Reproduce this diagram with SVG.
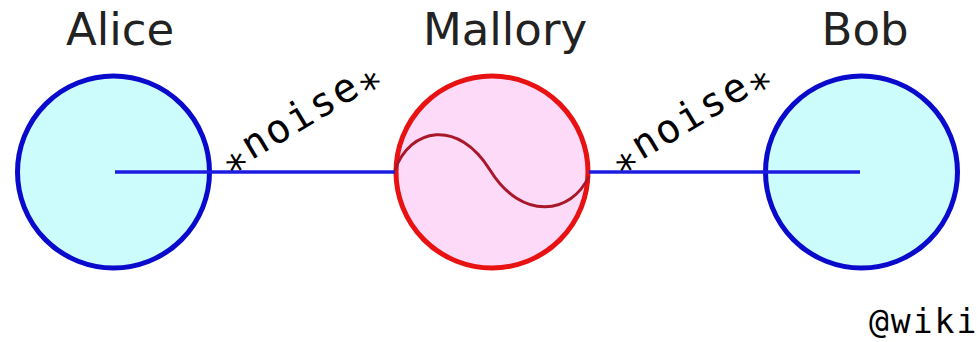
<svg xmlns="http://www.w3.org/2000/svg" width="977" height="342" viewBox="0 0 977 342">
<style>
.lbl{font-family:"DejaVu Sans","Liberation Sans",sans-serif;font-size:45px;fill:#222;text-anchor:middle}
.mono{font-family:"DejaVu Sans Mono","Liberation Mono",monospace;fill:#000}
.noise{font-size:40px;letter-spacing:2px}
.ast{baseline-shift:-0.36em}
.party{fill:#ccfcfc;stroke:#0a0acc;stroke-width:5}
.eve{fill:#fcdaf8;stroke:#e81212;stroke-width:5}
.conn{stroke:#1c1ce0;stroke-width:3.5;fill:none}
</style>
<rect width="977" height="342" fill="#fff"/>
<g id="alice">
<circle class="party" cx="113.5" cy="172" r="96"/>
<text class="lbl" x="120" y="45">Alice</text>
</g>
<g id="bob">
<circle class="party" cx="861.5" cy="172" r="96"/>
<text class="lbl" x="865" y="45">Bob</text>
</g>
<g id="mallory">
<circle class="eve" cx="492" cy="172" r="96"/>
<path d="M395,170 C410,128 458,118 490,170 C522,222 572,214 589,176" fill="none" stroke="#a8182a" stroke-width="3"/>
<text class="lbl" x="505" y="45">Mallory</text>
</g>
<g id="connectors">
<line class="conn" x1="115" y1="172" x2="395" y2="172"/>
<line class="conn" x1="589" y1="172" x2="860" y2="172"/>
</g>
<g id="labels">
<text class="mono noise" transform="translate(229,174) rotate(-31)"><tspan class="ast">*</tspan>noise<tspan class="ast">*</tspan></text>
<text class="mono noise" transform="translate(619,174) rotate(-31)"><tspan class="ast">*</tspan>noise<tspan class="ast">*</tspan></text>
<text class="mono" font-size="33" letter-spacing="2" x="869" y="333">@wiki</text>
</g>
</svg>
